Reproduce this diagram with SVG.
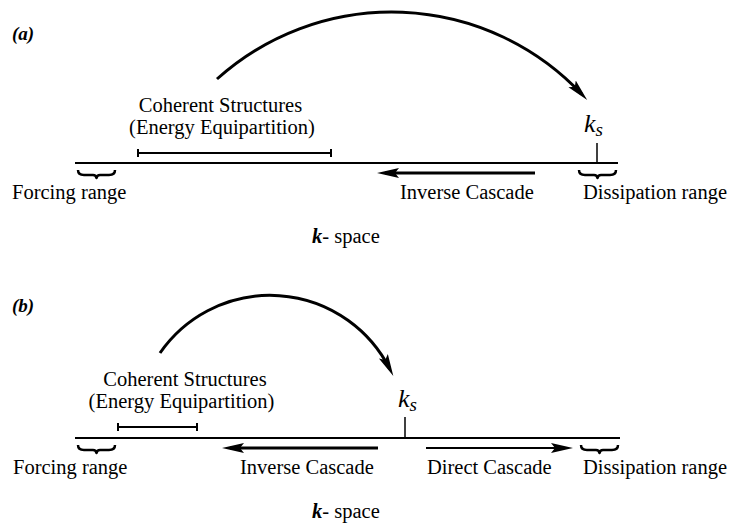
<svg xmlns="http://www.w3.org/2000/svg" width="732" height="525" viewBox="0 0 732 525">
<defs>
<style>
text{font-family:"Liberation Serif","Times New Roman",serif;font-size:20.5px;fill:#000}
.it{font-style:italic}
.ks{font-style:italic;font-size:26px}
.sub{font-size:19px}
.lab{font-style:italic;font-weight:bold;font-size:19px}
.axis{stroke:#000;stroke-width:2;fill:none}
.thick{stroke:#000;stroke-width:3;fill:none}
.thin{stroke:#000;stroke-width:2;fill:none}
.tick{stroke:#000;stroke-width:1.5;fill:none}
.brace{stroke:#000;stroke-width:2.5;fill:none;stroke-linejoin:round}
.bar{stroke:#000;stroke-width:2;fill:none}
</style>
<marker id="ah" markerUnits="userSpaceOnUse" markerWidth="24" markerHeight="12" refX="14" refY="5" orient="auto">
<path d="M0,0 L22,5 L0,10 L4,5 z" fill="#000"/>
</marker>
</defs>

<rect width="732" height="525" fill="#fff"/>

<!-- Panel (a) -->
<g id="panel-a">
<text id="label-a" class="lab" x="12" y="40">(a)</text>
<g id="axis-a"><line class="axis" x1="75" y1="163" x2="618" y2="163"/></g>
<g id="ks-a">
<line class="tick" x1="597" y1="143" x2="597" y2="163"/>
<text class="ks" x="584" y="132">k<tspan class="sub" dy="4">s</tspan></text>
</g>
<g id="coherent-a">
<text x="220.5" y="112" text-anchor="middle">Coherent Structures</text>
<text x="222" y="134" text-anchor="middle">(Energy Equipartition)</text>
<path class="bar" d="M138,153 H331 M138,149 V157 M331,149 V157"/>
</g>
<g id="forcing-a">
<path class="brace" d="M78,170 Q78,175 84,175 L93,175 Q96,175 96.5,178 Q97,175 100,175 L109,175 Q115,175 115,170"/>
<text x="12" y="199">Forcing range</text>
</g>
<g id="dissipation-a">
<path class="brace" d="M579,170 Q579,175 585,175 L594,175 Q597,175 597.5,178 Q598,175 601,175 L610,175 Q616,175 616,170"/>
<text x="583" y="199">Dissipation range</text>
</g>
<g id="inverse-a"><text x="400" y="199">Inverse Cascade</text></g>
<g id="kspace-a"><text x="312" y="243"><tspan class="it" font-weight="bold">k</tspan>- space</text></g>
</g>

<!-- Panel (b) -->
<g id="panel-b">
<text id="label-b" class="lab" x="12" y="312">(b)</text>
<g id="axis-b"><line class="axis" x1="75" y1="438" x2="620" y2="438"/></g>
<g id="ks-b">
<line class="tick" x1="405" y1="417" x2="405" y2="438"/>
<text class="ks" x="398" y="407">k<tspan class="sub" dy="4">s</tspan></text>
</g>
<g id="coherent-b">
<text x="185" y="386" text-anchor="middle">Coherent Structures</text>
<text x="181.5" y="408" text-anchor="middle">(Energy Equipartition)</text>
<path class="bar" d="M118,427 H197 M118,423 V431 M197,423 V431"/>
</g>
<g id="forcing-b">
<path class="brace" d="M78,445 Q78,450 84,450 L93,450 Q96,450 96.5,453 Q97,450 100,450 L109,450 Q115,450 115,445"/>
<text x="13" y="474">Forcing range</text>
</g>
<g id="dissipation-b">
<path class="brace" d="M581,445 Q581,450 587,450 L596,450 Q599,450 599.5,453 Q600,450 603,450 L612,450 Q618,450 618,445"/>
<text x="583" y="474">Dissipation range</text>
</g>
<g id="inverse-b"><text x="240" y="474">Inverse Cascade</text></g>
<g id="direct-b"><text x="427" y="474">Direct Cascade</text></g>
<g id="kspace-b"><text x="312" y="518"><tspan class="it" font-weight="bold">k</tspan>- space</text></g>
</g>

<!-- Connectors -->
<g id="connectors">
<path class="thick" d="M217,79 A261,261 0 0,1 581.7,94.1" marker-end="url(#ah)"/>
<line class="thick" x1="535" y1="173" x2="385" y2="173" marker-end="url(#ah)"/>
<path class="thick" d="M160,353 A134,134 0 0,1 389.7,368.8" marker-end="url(#ah)"/>
<line class="thick" x1="378" y1="448" x2="230" y2="448" marker-end="url(#ah)"/>
<line class="thin" x1="426" y1="448" x2="565" y2="448" marker-end="url(#ah)"/>
</g>
</svg>
